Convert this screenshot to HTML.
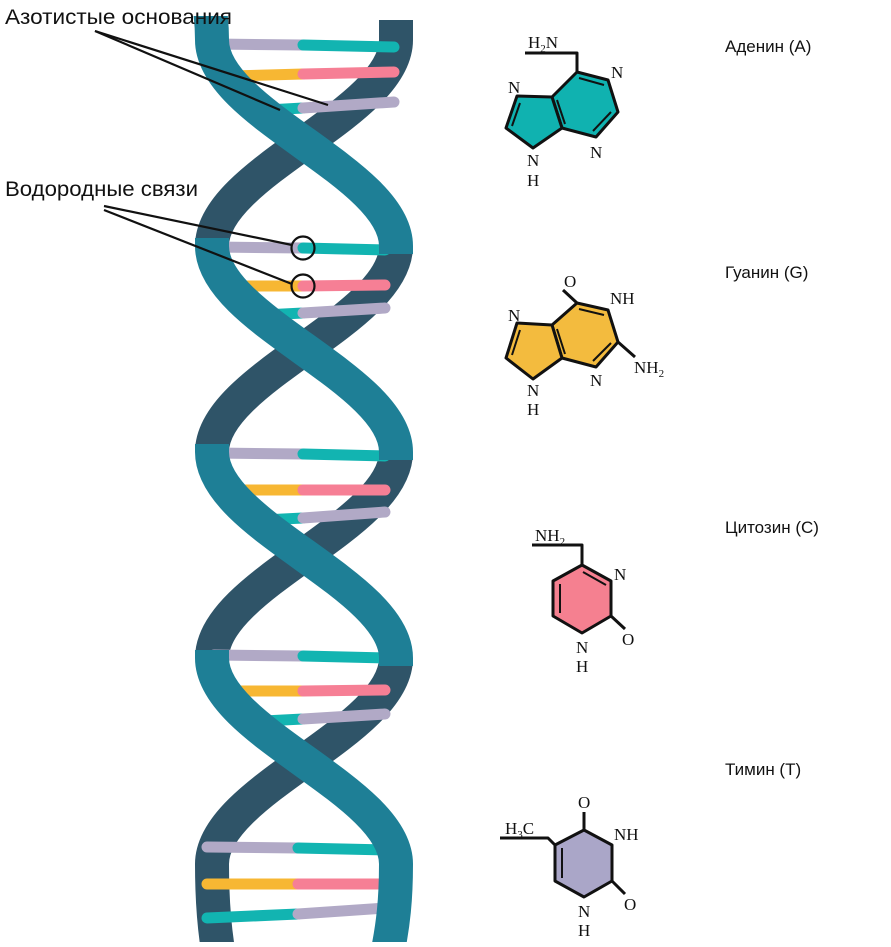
<!DOCTYPE html>
<html><head><meta charset="utf-8"><style>
html,body{margin:0;padding:0;background:#fff;}
svg{display:block;}
text{font-family:"Liberation Sans",sans-serif;}
.m{font-family:"Liberation Serif",serif;font-size:17px;fill:#111;}
</style></head><body>
<svg width="891" height="947" viewBox="0 0 891 947" xmlns="http://www.w3.org/2000/svg">
<defs><clipPath id="c"><rect x="0" y="16" width="891" height="926"/></clipPath></defs>
<g clip-path="url(#c)" fill="none" stroke-width="34">
<g stroke="#2f5468">
<path d="M396 20 L396 40 C396 114 212 172 212 246"/>
<path d="M396 246 C396 320 212 378 212 452"/>
<path d="M396 452 C396 526 212 584 212 658"/>
<path d="M396 658 C396 732 212 790 212 864 C212 900 214 925 218 950"/>
</g>
<g stroke-width="11" stroke-linecap="round">
<line x1="214" y1="44" x2="303" y2="45" stroke="#b1a9c6"/><line x1="303" y1="45" x2="394" y2="47" stroke="#12b4b1"/>
<line x1="230" y1="76" x2="303" y2="74" stroke="#f7b733"/><line x1="303" y1="74" x2="394" y2="72" stroke="#f67f95"/>
<line x1="250" y1="111" x2="303" y2="108" stroke="#12b4b1"/><line x1="303" y1="108" x2="394" y2="102" stroke="#b1a9c6"/>

<line x1="214" y1="247" x2="303" y2="248" stroke="#b1a9c6"/><line x1="303" y1="248" x2="385" y2="250" stroke="#12b4b1"/>
<line x1="225" y1="286" x2="303" y2="286" stroke="#f7b733"/><line x1="303" y1="286" x2="385" y2="285" stroke="#f67f95"/>
<line x1="245" y1="316" x2="303" y2="313" stroke="#12b4b1"/><line x1="303" y1="313" x2="385" y2="308" stroke="#b1a9c6"/>

<line x1="214" y1="453" x2="303" y2="454" stroke="#b1a9c6"/><line x1="303" y1="454" x2="385" y2="456" stroke="#12b4b1"/>
<line x1="225" y1="490" x2="303" y2="490" stroke="#f7b733"/><line x1="303" y1="490" x2="385" y2="490" stroke="#f67f95"/>
<line x1="245" y1="521" x2="303" y2="518" stroke="#12b4b1"/><line x1="303" y1="518" x2="385" y2="512" stroke="#b1a9c6"/>

<line x1="214" y1="655" x2="303" y2="656" stroke="#b1a9c6"/><line x1="303" y1="656" x2="385" y2="658" stroke="#12b4b1"/>
<line x1="225" y1="691" x2="303" y2="691" stroke="#f7b733"/><line x1="303" y1="691" x2="385" y2="690" stroke="#f67f95"/>
<line x1="245" y1="722" x2="303" y2="719" stroke="#12b4b1"/><line x1="303" y1="719" x2="385" y2="714" stroke="#b1a9c6"/>

<line x1="207" y1="847" x2="298" y2="848" stroke="#b1a9c6"/><line x1="298" y1="848" x2="385" y2="850" stroke="#12b4b1"/>
<line x1="207" y1="884" x2="298" y2="884" stroke="#f7b733"/><line x1="298" y1="884" x2="385" y2="884" stroke="#f67f95"/>
<line x1="207" y1="918" x2="298" y2="914" stroke="#12b4b1"/><line x1="298" y1="914" x2="385" y2="908" stroke="#b1a9c6"/>
</g>
<g stroke="#1e7f96">
<path d="M210 10 Q212 25 212 40 C212 114 396 172 396 246 L396 254"/>
<path d="M212 238 L212 246 C212 320 396 378 396 452 L396 460"/>
<path d="M212 444 L212 452 C212 526 396 584 396 658 L396 666"/>
<path d="M212 650 L212 658 C212 732 396 790 396 864 C396 900 393 925 388 950"/>
</g>
</g>
<text x="5" y="24" font-size="21" fill="#111" textLength="227" lengthAdjust="spacingAndGlyphs">Азотистые основания</text>
<text x="5" y="196" font-size="21" fill="#111" textLength="193" lengthAdjust="spacingAndGlyphs">Водородные связи</text>
<g stroke="#111" stroke-width="2.2" fill="none">
<line x1="95" y1="31" x2="280" y2="110"/><line x1="95" y1="31" x2="328" y2="105"/>
<line x1="104" y1="206" x2="292" y2="245"/><line x1="104" y1="210" x2="292" y2="284"/>
<circle cx="303" cy="248" r="11.5"/><circle cx="303" cy="286" r="11.5"/>
</g>
<g font-size="17" fill="#111">
<text x="725" y="52">Аденин (A)</text>
<text x="725" y="278">Гуанин (G)</text>
<text x="725" y="533">Цитозин (C)</text>
<text x="725" y="775">Тимин (T)</text>
</g>
<g stroke="#111" stroke-width="3" stroke-linejoin="round">
<polygon fill="#10b2b0" points="577,72 608,80 618,112 596,137 562,128 552,97"/>
<polygon fill="#10b2b0" points="552,97 517,96 506,128 533,148 562,128"/>
<polyline fill="none" points="577,72 577,53 525,53"/>
<line x1="579" y1="78" x2="604" y2="85" stroke-width="2"/><line x1="611" y1="112" x2="593" y2="131" stroke-width="2"/>
<line x1="520" y1="103" x2="512" y2="126" stroke-width="2"/><line x1="557" y1="100" x2="565" y2="124" stroke-width="2"/>
<polygon fill="#f3bb3e" points="577,303 608,310 618,342 596,367 562,358 552,325"/>
<polygon fill="#f3bb3e" points="552,325 517,323 506,358 533,379 562,358"/>
<line x1="577" y1="303" x2="563" y2="290"/>
<line x1="618" y1="342" x2="635" y2="357"/>
<line x1="579" y1="309" x2="604" y2="315" stroke-width="2"/><line x1="611" y1="343" x2="593" y2="361" stroke-width="2"/>
<line x1="520" y1="330" x2="512" y2="355" stroke-width="2"/><line x1="557" y1="329" x2="565" y2="354" stroke-width="2"/>
<polygon fill="#f58090" points="582,565 611,581 611,616 582,633 553,616 553,581"/>
<polyline fill="none" points="582,565 582,545 532,545"/>
<line x1="611" y1="616" x2="625" y2="629"/>
<line x1="583" y1="572" x2="606" y2="585" stroke-width="2"/><line x1="560" y1="584" x2="560" y2="613" stroke-width="2"/>
<polygon fill="#aaa6c8" points="584,830 612,845 612,881 584,897 555,881 555,845"/>
<line x1="584" y1="830" x2="584" y2="812"/>
<line x1="612" y1="881" x2="625" y2="894"/>
<polyline fill="none" points="555,845 548,838 500,838"/>
<line x1="562" y1="848" x2="562" y2="878" stroke-width="2"/>
</g>
<g class="m">
<text x="528" y="48" class="m">H<tspan font-size="11" dy="4">2</tspan><tspan dy="-4">N</tspan></text>
<text x="611" y="78" class="m">N</text>
<text x="590" y="158" class="m">N</text>
<text x="508" y="93" class="m">N</text>
<text x="527" y="166" class="m">N</text><text x="527" y="186" class="m">H</text>
<text x="564" y="287" class="m">O</text>
<text x="610" y="304" class="m">NH</text>
<text x="634" y="373" class="m">NH<tspan font-size="11" dy="4">2</tspan></text>
<text x="590" y="386" class="m">N</text>
<text x="508" y="321" class="m">N</text>
<text x="527" y="396" class="m">N</text><text x="527" y="415" class="m">H</text>
<text x="535" y="541" class="m">NH<tspan font-size="11" dy="4">2</tspan></text>
<text x="614" y="580" class="m">N</text>
<text x="622" y="645" class="m">O</text>
<text x="576" y="653" class="m">N</text><text x="576" y="672" class="m">H</text>
<text x="578" y="808" class="m">O</text>
<text x="614" y="840" class="m">NH</text>
<text x="505" y="834" class="m">H<tspan font-size="11" dy="4">3</tspan><tspan dy="-4">C</tspan></text>
<text x="624" y="910" class="m">O</text>
<text x="578" y="917" class="m">N</text><text x="578" y="936" class="m">H</text>
</g>
</svg>
</body></html>
